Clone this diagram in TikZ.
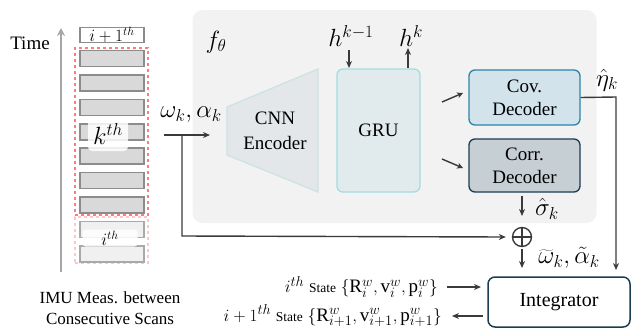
\documentclass[tikz,border=0pt]{standalone}
\usepackage{fontspec}
\setmainfont{Liberation Serif}
\usetikzlibrary{arrows.meta,shapes.geometric}
\definecolor{arr}{HTML}{3A3A3A}
\definecolor{panel}{HTML}{F2F2F2}
\definecolor{encfill}{HTML}{E4E7E9}
\definecolor{encdraw}{HTML}{CFE2E2}
\definecolor{grufill}{HTML}{E1EBED}
\definecolor{grudraw}{HTML}{A6DBE1}
\definecolor{covfill}{HTML}{D2E3EC}
\definecolor{covdraw}{HTML}{2B84A8}
\definecolor{corfill}{HTML}{C6CFD4}
\definecolor{cordraw}{HTML}{1C3C50}
\definecolor{barfill}{HTML}{D9D9D9}
\definecolor{bardraw}{HTML}{8C8C8C}
\definecolor{fbarfill}{HTML}{F0F0F0}
\definecolor{fbardraw}{HTML}{A9A9A9}
\definecolor{reddash}{HTML}{FF7A7A}
\definecolor{pinkdash}{HTML}{FFC6C6}
\tikzset{
  conn/.style={draw=arr, line width=1.4pt, -{Stealth[length=7pt,width=6pt]}},
  line/.style={draw=arr, line width=1.4pt},
  bar/.style={draw=bardraw, fill=barfill, line width=1.3pt, minimum width=64pt, minimum height=16pt, inner sep=0pt},
  fbar/.style={draw=fbardraw, fill=fbarfill, line width=1.3pt, minimum width=64pt, minimum height=16pt, inner sep=0pt},
  mlab/.style={font=\fontsize{23}{26}\selectfont, inner sep=0pt},
  rmbig/.style={font=\fontsize{19}{23}\selectfont},
  rmmid/.style={font=\fontsize{17}{21}\selectfont},
  decbox/.style={rounded corners=6pt, line width=1.3pt, minimum width=111pt, minimum height=55pt, align=center, font=\fontsize{19}{23}\selectfont},
  stlab/.style={anchor=east, inner sep=0pt, font=\fontsize{19}{21}\selectfont},
}
\newcommand{\stw}[1]{{\fontsize{13.5}{15}\selectfont #1}}
\begin{document}
\begin{tikzpicture}[x=1pt,y=-1pt]
\useasboundingbox (0,0) rectangle (631,335);
% ---- left column ----
\node[rmbig] (time) at (30,43) {Time};
\coordinate (tb) at (61,272);
\coordinate (tt) at (61,28);
\draw[draw=black!35, line width=2.5pt, -{Stealth[length=8pt,width=8pt]}] (tb) -- (tt);
\node[draw=black!45, fill=white, line width=1.2pt, minimum width=64pt, minimum height=15pt, inner sep=0pt, font=\fontsize{17}{18}\selectfont] (top) at (112,35) {$i+1^{th}$};
\node[draw=reddash, dashed, line width=1.1pt, minimum width=73pt, minimum height=167pt, inner sep=0pt] (kwin) at (111.5,131.5) {};
\node[draw=pinkdash, dashed, line width=1.1pt, minimum width=73pt, minimum height=46pt, inner sep=0pt] (iwin) at (111.5,240) {};
\foreach \i/\y in {1/58.5,2/83,3/107.5,4/132,5/156,6/180.5,7/205}{
  \node[bar] (b\i) at (112,\y) {};
}
\node[fbar] (fb1) at (112,229.5) {};
\node[fbar] (fb2) at (112,254) {};
\node[fill=white, fill opacity=0.85, text opacity=1, rounded corners=4pt, minimum width=40pt, minimum height=34pt, inner sep=0pt, font=\fontsize{24}{26}\selectfont] (klab) at (108,134) {$k^{th}$};
\node[fill=white, fill opacity=0.85, text opacity=1, rounded corners=3pt, minimum width=55pt, minimum height=17pt, inner sep=0pt, font=\fontsize{17}{18}\selectfont] (ilab) at (110,238) {$i^{th}$};
\node[align=center, rmmid] (imu) at (110,308) {IMU Meas. between\\Consecutive Scans};
% ---- main panel ----
\node[fill=panel, rounded corners=10pt, minimum width=404pt, minimum height=213pt, inner sep=0pt] (panel) at (394.5,116.5) {};
\node[font=\fontsize{27}{30}\selectfont] (ftheta) at (216,42) {$f_\theta$};
\draw[fill=encfill, draw=encdraw, line width=1.3pt] (227,107) -- (318,69) -- (318,192) -- (227,155) -- cycle;
\node[align=center, font=\fontsize{19}{25}\selectfont] (enc) at (275,131) {CNN\\Encoder};
\node[draw=grudraw, fill=grufill, rounded corners=6pt, line width=1.3pt, minimum width=83pt, minimum height=123pt, inner sep=0pt, align=center, font=\fontsize{19}{23}\selectfont] (gru) at (378.5,130.5) {GRU};
\node[decbox, draw=covdraw, fill=covfill] (cov) at (524.5,97.5) {Cov.\\Decoder};
\node[decbox, draw=cordraw, fill=corfill, minimum height=53pt] (cor) at (524.5,165.5) {Corr.\\Decoder};
% hidden state
\node[mlab] (hkm) at (351,36) {$h^{k-1}$};
\node[mlab] (hk) at (411,36) {$h^{k}$};
\coordinate (g1) at (349,68);
\coordinate (g2) at (408,48);
\draw[conn] (349,50) -- (g1);
\draw[conn] (gru.north -| g2) -- (g2);
% gru -> decoders
\coordinate (a1s) at (442,102);
\coordinate (a1e) at (463,93);
\coordinate (a2s) at (442,159);
\coordinate (a2e) at (463,168);
\draw[conn, -{Stealth[length=6pt,width=6pt]}] (a1s) -- (a1e);
\draw[conn, -{Stealth[length=6pt,width=6pt]}] (a2s) -- (a2e);
% input
\node[mlab] (inlab) at (191,115) {$\omega_k,\alpha_k$};
\coordinate (in0) at (164,135);
\coordinate (in1) at (210,135);
\coordinate (jn) at (182,135);
\coordinate (jd) at (182,236);
\draw[conn] (in0) -- (in1);
% sum
\node[draw=arr, circle, line width=1.4pt, minimum size=19pt, inner sep=0pt] (sum) at (522,237) {};
\draw[line, line width=1.2pt] (sum.north) -- (sum.south) (sum.west) -- (sum.east);
\draw[conn] (jn) -- (jd) -- ([xshift=-6pt]sum.west);
\coordinate (sg0) at (522,196);
\coordinate (sg1) at (522,216);
\draw[conn] (sg0) -- (sg1);
\node[mlab] (sig) at (547,209) {$\hat{\sigma}_k$};
% integrator
\node[draw=cordraw, fill=white, rounded corners=7pt, line width=1.5pt, minimum width=142pt, minimum height=50pt, inner sep=0pt, align=center, font=\fontsize{20}{23}\selectfont] (integ) at (559,302) {Integrator};
\coordinate (sm1) at (522,268);
\draw[conn] (sum.south) ++(0,2) -- (sm1);
\node[mlab] (wt) at (569,258) {$\widetilde{\omega}_k,\tilde{\alpha}_k$};
\node[mlab] (eta) at (607,80) {$\hat{\eta}_k$};
\coordinate (er) at (616,97);
\coordinate (eb) at (616,270);
\draw[conn] (cov.east) -- (er) -- (eb);
% states
\node[stlab] (st1) at (438,287) {$i^{th}$ \stw{State} $\{\mathrm{R}_i^{w},\mathrm{v}_i^{w},\mathrm{p}_i^{w}\}$};
\node[stlab] (st2) at (442,316) {$i+1^{th}$ \stw{State} $\{\mathrm{R}_{i+1}^{w},\mathrm{v}_{i+1}^{w},\mathrm{p}_{i+1}^{w}\}$};
\coordinate (s1a) at (447,287);
\coordinate (s1b) at (481,287);
\coordinate (s2a) at (483,316);
\coordinate (s2b) at (452,316);
\draw[conn] (s1a) -- (s1b);
\draw[conn] (s2a) -- (s2b);
\end{tikzpicture}
\end{document}
